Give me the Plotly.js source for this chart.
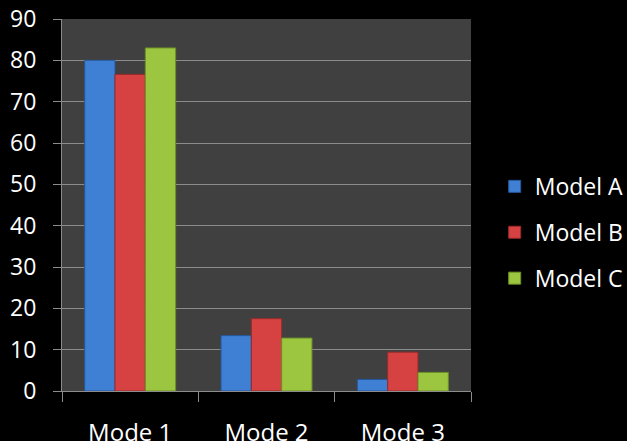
<!DOCTYPE html>
<html><head><meta charset="utf-8">
<script src="https://cdn.plot.ly/plotly-3.0.1.min.js"></script>
<style>html,body{margin:0;padding:0;background:#000;}</style>
</head><body>
<div id="chart" style="width:627px;height:441px;"></div>
<script>
const categories = ["Mode 1", "Mode 2", "Mode 3"];
const seriesNames = ["Model A", "Model B", "Model C"];
const modelA = [80, 13.4, 2.8];
const modelB = [76.6, 17.5, 9.4];
const modelC = [83, 12.8, 4.5];
const yTicks = [0, 10, 20, 30, 40, 50, 60, 70, 80, 90];

const fills = ["#3f7fd4", "#d64242", "#9cc63f"];
const edges = ["#24589c", "#992a2a", "#6c8f27"];
const values = [modelA, modelB, modelC];

const traces = values.map((v, i) => ({
  type: "bar",
  name: seriesNames[i],
  x: categories,
  y: v,
  legendgroup: "g" + i,
  marker: {color: fills[i], line: {color: edges[i], width: 1}},
  hoverinfo: "skip"
}));

const font = "'Open Sans', 'DejaVu Sans', sans-serif";
const layout = {
  width: 627, height: 441,
  paper_bgcolor: "#000000",
  plot_bgcolor: "#404040",
  margin: {l: 62, r: 156, t: 19, b: 50, autoexpand: false},
  barmode: "group",
  bargap: 0.333,
  bargroupgap: 0,
  showlegend: true,
  legend: {
    xref: "container", yref: "container",
    x: 0.789, xanchor: "left", y: 0.473, yanchor: "middle",
    font: {family: font, size: 23, color: "#ffffff"},
    bgcolor: "rgba(0,0,0,0)",
    traceorder: "grouped",
    tracegroupgap: 13,
    itemwidth: 30
  },
  xaxis: {
    type: "category",
    showgrid: false,
    showline: true, linecolor: "#8c8c8c", linewidth: 1,
    ticks: "outside", ticklen: 10, tickcolor: "#8c8c8c",
    tickson: "boundaries",
    ticklabelstandoff: 20,
    tickfont: {family: font, size: 24, color: "#ffffff"},
    fixedrange: true
  },
  yaxis: {
    range: [0, 90],
    tickvals: yTicks,
    ticktext: yTicks.map(String),
    showgrid: true, gridcolor: "#8c8c8c", gridwidth: 1,
    zeroline: false,
    showline: true, linecolor: "#8c8c8c", linewidth: 1,
    ticks: "outside", ticklen: 8, tickcolor: "#8c8c8c",
    ticklabelstandoff: 12,
    tickfont: {family: font, size: 23, color: "#ffffff"},
    fixedrange: true
  }
};

Plotly.newPlot("chart", traces, layout, {displayModeBar: false, staticPlot: true});
</script>
</body></html>
